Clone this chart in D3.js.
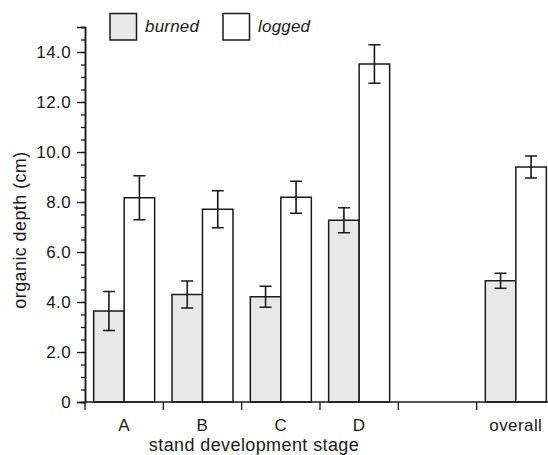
<!DOCTYPE html>
<html>
<head>
<meta charset="utf-8">
<script src="https://cdn.jsdelivr.net/npm/d3@7"></script>
<style>
  body { margin: 0; background: #fff; }
  text { font-family: "Liberation Sans", Arial, Helvetica, sans-serif; fill: #1a1a1a; }
</style>
</head>
<body>
<div id="chart"></div>
<script>
// data
var stages = ["A", "B", "C", "D", "gap", "overall"];
var stageLabels = ["A", "B", "C", "D", "", "overall"];
var burned = [3.64, 4.30, 4.21, 7.27, null, 4.85];
var burnedErr = [0.78, 0.54, 0.42, 0.50, null, 0.30];
var logged = [8.17, 7.71, 8.19, 13.52, null, 9.40];
var loggedErr = [0.88, 0.74, 0.64, 0.77, null, 0.44];
var yTicks = [0, 2, 4, 6, 8, 10, 12, 14];
var series = ["burned", "logged"];
var fills = {burned: "#e8e8e8", logged: "#ffffff"};

var width = 548, height = 455;
var ink = "#1a1a1a";

var svg = d3.select("#chart")
  .append("svg")
    .attr("width", width)
    .attr("height", height);

var x = d3.scaleBand()
  .domain(stages)
  .range([85, 85 + 6 * 78.33]);

var y = d3.scaleLinear()
  .domain([0, 15])
  .range([402, 27]);

var inner = d3.scaleBand()
  .domain(series)
  .range([0, 61]);
var off = (x.bandwidth() - 61) / 2;

// rows for bars
var rows = [];
stages.forEach(function(s, i) {
  if (burned[i] == null) return;
  rows.push({stage: s, key: "burned", v: burned[i], e: burnedErr[i]});
  rows.push({stage: s, key: "logged", v: logged[i], e: loggedErr[i]});
});

// bars
svg.append("g").selectAll("rect")
  .data(rows)
  .enter().append("rect")
    .attr("x", function(d) { return x(d.stage) + off + inner(d.key); })
    .attr("y", function(d) { return y(d.v); })
    .attr("width", inner.bandwidth())
    .attr("height", function(d) { return y(0) - y(d.v); })
    .attr("fill", function(d) { return fills[d.key]; })
    .attr("stroke", ink)
    .attr("stroke-width", 1.5);

// error bars
var eb = svg.append("g").attr("stroke", ink).attr("stroke-width", 1.6).attr("fill", "none");
rows.forEach(function(d) {
  var cx = x(d.stage) + off + inner(d.key) + inner.bandwidth() / 2;
  var path = d3.path();
  path.moveTo(cx, y(d.v + d.e)); path.lineTo(cx, y(d.v - d.e));
  path.moveTo(cx - 6, y(d.v + d.e)); path.lineTo(cx + 6, y(d.v + d.e));
  path.moveTo(cx - 6, y(d.v - d.e)); path.lineTo(cx + 6, y(d.v - d.e));
  eb.append("path").attr("d", path.toString());
});

// y axis: minor ticks then major ticks with labels
var yAxisG = svg.append("g").attr("transform", "translate(85,0)");
yAxisG.call(d3.axisLeft(y).tickValues(d3.range(0, 15.01, 0.5)).tickSize(4).tickFormat(""));
yAxisG.append("g").call(d3.axisLeft(y)
  .tickValues(yTicks)
  .tickSize(8)
  .tickPadding(6)
  .tickFormat(function(d) { return d === 0 ? "0" : d3.format(".1f")(d); }));
yAxisG.selectAll("path.domain").attr("stroke", ink).attr("stroke-width", 1.5);
yAxisG.selectAll(".tick line").attr("stroke", ink).attr("stroke-width", 1.3);
yAxisG.selectAll(".tick text")
  .style("font-size", "17px")
  .style("letter-spacing", "0.4px")
  .style("font-family", "'Liberation Sans', Arial, sans-serif")
  .attr("fill", ink);

// x axis: boundary ticks and centred labels
var xAxisG = svg.append("g").attr("transform", "translate(0,402)");
xAxisG.append("line")
  .attr("x1", 85).attr("x2", x.range()[1])
  .attr("stroke", ink).attr("stroke-width", 1.5);
xAxisG.selectAll("line.bt")
  .data(stages)
  .enter().append("line")
    .attr("class", "bt")
    .attr("x1", function(d) { return x(d); })
    .attr("x2", function(d) { return x(d); })
    .attr("y1", 0).attr("y2", 8)
    .attr("stroke", ink).attr("stroke-width", 1.3);
xAxisG.selectAll("text")
  .data(stages)
  .enter().append("text")
    .attr("x", function(d) { return x(d) + x.bandwidth() / 2; })
    .attr("y", 28.5)
    .attr("text-anchor", "middle")
    .style("font-size", "17px")
    .style("letter-spacing", "0.4px")
    .text(function(d, i) { return stageLabels[i]; });

// axis titles
svg.append("text")
  .attr("x", 254)
  .attr("y", 451)
  .attr("text-anchor", "middle")
  .style("font-size", "18px")
  .style("letter-spacing", "0.4px")
  .text("stand development stage");

svg.append("text")
  .attr("transform", "translate(26,230) rotate(-90)")
  .attr("text-anchor", "middle")
  .style("font-size", "18px")
  .style("letter-spacing", "0.4px")
  .text("organic depth (cm)");

// legend
var legendX = [110, 223];
var legend = svg.append("g");
series.forEach(function(s, i) {
  legend.append("rect")
    .attr("x", legendX[i]).attr("y", 13.5)
    .attr("width", 26.5).attr("height", 26.5)
    .attr("fill", fills[s])
    .attr("stroke", ink).attr("stroke-width", 1.5);
  legend.append("text")
    .attr("x", legendX[i] + 35).attr("y", 32)
    .style("font-size", "17px")
    .style("letter-spacing", "0.2px")
    .style("font-style", "italic")
    .text(s);
});
</script>
</body>
</html>
